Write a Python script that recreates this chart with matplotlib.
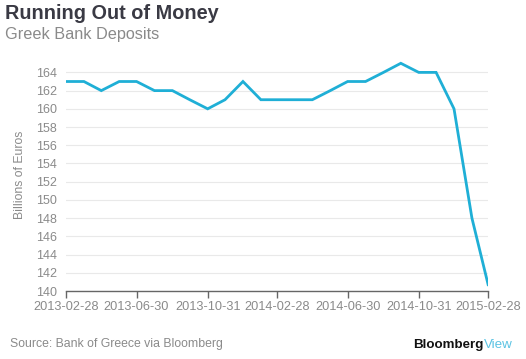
import matplotlib
import numpy as np
import pandas as pd
import matplotlib.pyplot as plt

matplotlib.use('Agg')

# Greek bank deposits, billions of euros, month-end
months = pd.date_range('2013-02-28', '2015-02-28', freq='ME')
deposits = [163, 163, 162, 163, 163, 162, 162, 161, 160, 161, 163, 161, 161,
            161, 161, 162, 163, 163, 164, 165, 164, 164, 160, 148, 140.7]
tick_dates = months[::4]
tick_labels = [d.strftime('%Y-%m-%d') for d in tick_dates]
y_ticks = np.arange(140, 165, 2)

plt.rcParams['font.family'] = ['Liberation Sans', 'DejaVu Sans']

fig = plt.figure(figsize=(5.26, 3.59), dpi=100)
ax = fig.add_axes([0.1255, 0.1894, 0.8025, 0.647])

ax.plot(months, deposits, color='#1fafd6', lw=2.0, solid_joinstyle='miter', zorder=3)

ax.set_xlim(months[0], months[-1])
ax.set_ylim(140, 165.5)
ax.set_yticks(y_ticks)
ax.set_xticks(tick_dates)
ax.set_xticklabels(tick_labels)

ax.grid(axis='y', color='#e9e9e9', lw=0.8)
ax.set_axisbelow(True)
for s in ['top', 'right', 'left']:
    ax.spines[s].set_visible(False)
ax.spines['bottom'].set_color('#666666')
ax.spines['bottom'].set_linewidth(1.0)
ax.tick_params(axis='y', length=0, pad=6.5, labelsize=9, labelcolor='#8a8a8a')
ax.tick_params(axis='x', length=5, width=1, color='#666666', pad=2,
               labelsize=9.2, labelcolor='#8a8a8a')
ax.set_ylabel('Billions of Euros', color='#8a8a8a', fontsize=8.8, labelpad=7)

fig.text(0.010, 0.962, 'Running Out of Money', fontsize=14.3, fontweight='bold',
         color='#3a3a44', va='center', ha='left')
fig.text(0.010, 0.905, 'Greek Bank Deposits', fontsize=11.7, color='#8a8a8a',
         va='center', ha='left')
fig.text(0.019, 0.043, 'Source: Bank of Greece via Bloomberg', fontsize=8.8,
         color='#8a8a8a', va='center', ha='left')
t = fig.text(0.785, 0.040, 'Bloomberg', fontsize=9.6, fontweight='bold',
             color='#111111', va='center', ha='left')
fig.canvas.draw()
bb = t.get_window_extent()
fig.text(bb.x1 / fig.bbox.width + 0.002, 0.040, 'View', fontsize=9.6,
         color='#5bc3e3', va='center', ha='left')

fig.savefig('out.png', dpi=100)
